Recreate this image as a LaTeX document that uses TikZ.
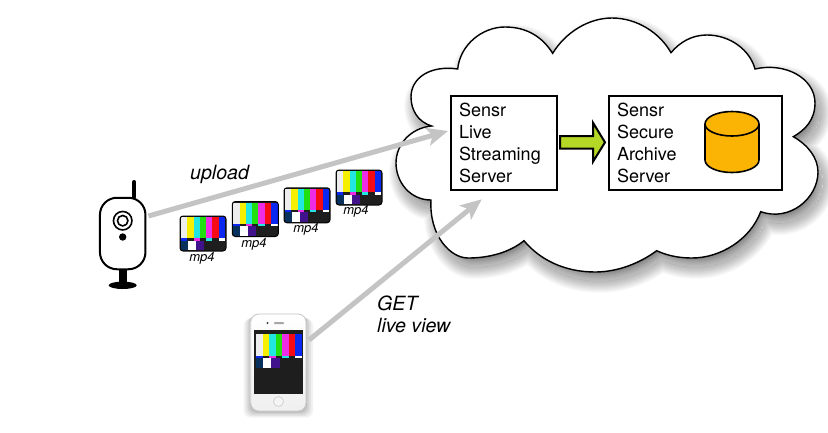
\documentclass[tikz,border=0pt]{standalone}
\usepackage{fontspec}
\setmainfont{TeX Gyre Heros}
\usetikzlibrary{arrows.meta}
\definecolor{flowgray}{HTML}{C4C4C4}
\definecolor{greenarrow}{HTML}{B5D827}
\definecolor{dbfill}{HTML}{FBB404}
\definecolor{tvwhite}{HTML}{EDEDED}
\definecolor{tvyellow}{HTML}{F6F000}
\definecolor{tvcyan}{HTML}{22E6E0}
\definecolor{tvgreen}{HTML}{22E010}
\definecolor{tvmagenta}{HTML}{EE2CE6}
\definecolor{tvred}{HTML}{F60A14}
\definecolor{tvblue}{HTML}{0A28F0}
\definecolor{tvnavy}{HTML}{08305C}
\definecolor{tvpurple}{HTML}{40128C}
\definecolor{tvdark}{HTML}{1E1E1E}
\newcommand{\cloudpath}{(431.7,126)
 .. controls (418,122) and (411,110) .. (411,97)
 .. controls (411,78) and (430,65) .. (457.7,69)
 .. controls (460,45) and (482,27) .. (505,27)
 .. controls (528,27) and (543,38) .. (552.7,53.3)
 .. controls (565,33) and (588,18) .. (612,18)
 .. controls (637,18) and (660,33) .. (671,52.7)
 .. controls (680,42) and (692,35) .. (707,35)
 .. controls (730,35) and (750,50) .. (755,69)
 .. controls (785,62) and (815,78) .. (815,103)
 .. controls (815,120) and (805,130) .. (793.3,136.7)
 .. controls (808,145) and (818,158) .. (818,172)
 .. controls (818,198) and (790,222) .. (760.7,211.7)
 .. controls (750,240) and (720,258) .. (692,258)
 .. controls (680,258) and (668,256) .. (656.7,250.7)
 .. controls (640,263) and (618,272) .. (595,272)
 .. controls (565,272) and (540,260) .. (524,240.7)
 .. controls (510,252) and (490,258) .. (468,258)
 .. controls (450,258) and (429,235) .. (431,200)
 .. controls (410,200) and (396,182) .. (396,163)
 .. controls (396,145) and (410,128) .. (431.7,126) -- cycle}
\newcommand{\testcard}[2]{%
 \foreach \c [count=\i from 0] in {tvwhite,tvyellow,tvcyan,tvgreen,tvmagenta,tvred,tvblue}{
   \fill[\c] ({\i*#1/7},0) rectangle ({(\i+1)*#1/7+0.3},{0.64*#2});}
 \foreach \c [count=\i from 0] in {tvblue,tvdark,tvmagenta,tvdark,tvcyan,tvdark,white}{
   \fill[\c] ({\i*#1/7},{0.64*#2}) rectangle ({(\i+1)*#1/7+0.3},{0.71*#2});}
 \fill[tvnavy] (0,{0.71*#2}) rectangle ({0.15*#1},#2);
 \fill[white] ({0.15*#1},{0.71*#2}) rectangle ({0.33*#1},#2);
 \fill[tvpurple] ({0.33*#1},{0.71*#2}) rectangle ({0.52*#1},#2);
 \fill[tvdark] ({0.52*#1},{0.71*#2}) rectangle (#1,#2);
}
\tikzset{
 flow/.style={draw=flowgray,line width=5pt,-{Stealth[length=21pt,width=18pt,inset=5pt]}},
 boxnode/.style={draw=black,line width=2pt,anchor=north west,align=left,inner ysep=0pt,inner xsep=8pt,
   font=\fontsize{18}{22}\selectfont,minimum height=93.7pt},
 flowlabel/.style={anchor=base west,inner sep=0pt,font=\fontsize{19.6}{22}\selectfont\itshape},
 mplabel/.style={inner sep=0pt,font=\fontsize{13}{13}\selectfont\itshape},
 tvicon/.pic={
   \begin{scope}
    \clip[rounded corners=3pt] (0,0) rectangle (46,35);
    \fill[tvdark] (0,0) rectangle (46,35);
    \begin{scope}[shift={(1,1.2)}]
      \testcard{44}{33}
    \end{scope}
   \end{scope}
   \draw[black,line width=1pt,rounded corners=3pt] (0,0) rectangle (46,35);
 }
}
\begin{document}
\begin{tikzpicture}[x=1pt,y=-1pt]
\useasboundingbox (0,0) rectangle (828,432);
\fill[white] (0,0) rectangle (828,432);
% cloud shadow: soft edge, fading both ways from the outline
\begin{scope}[shift={(5,9)}]
 \foreach \w in {24,22,20,18,16,14,12,10,8,6,4,2}{
   \draw[black,opacity=0.025,line width=\w pt,line join=round] \cloudpath;
 }
 \begin{scope}
  \clip \cloudpath;
  \fill[white] \cloudpath;
  \fill[black,opacity=0.6] \cloudpath;
  \foreach \w in {24,22,20,18,16,14,12,10,8,6,4,2}{
    \draw[white,opacity=0.07,line width=\w pt,line join=round] \cloudpath;
  }
 \end{scope}
\end{scope}
\draw[black,fill=white,line width=1.4pt,miter limit=10] \cloudpath;

% boxes
\node[boxnode,text width=90pt,minimum width=106pt] (live) at (450,95)
 {Sensr\\Live\\Streaming\\Server};
\node[boxnode,text width=157pt,minimum width=173pt] (archive) at (608,95)
 {Sensr\\Secure\\Archive\\Server};

% green arrow
\draw[black,line width=2pt,fill=greenarrow,miter limit=10]
 (560,136) -- (593,136) -- (593,122.7) -- (605,142.3) -- (593,161.7) -- (593,148.7) -- (560,148.7) -- cycle;

% database
\draw[black,line width=1.6pt,fill=dbfill]
 (705,124) -- (705,160) arc[start angle=180,end angle=0,x radius=27,y radius=12.5] -- (759,124)
 arc[start angle=0,end angle=-180,x radius=27,y radius=12.5] -- cycle;
\draw[black,line width=1.6pt] (705,124) arc[start angle=180,end angle=0,x radius=27,y radius=12];

% camera
\draw[black,line width=4pt,line cap=round] (134.3,182) -- (134.3,197);
\fill[black] (119,268) rectangle (126.7,284);
\fill[black] (122.7,285.3) ellipse[x radius=14,y radius=3.7];
\node[draw=black,fill=white,line width=2pt,rounded corners=17pt,minimum width=45.5pt,minimum height=71.5pt,inner sep=0pt] (camera) at (122.7,233.5) {};
\node[draw=black,line width=1.6pt,circle,minimum size=18.5pt,inner sep=0pt] (lensouter) at (122.7,220.7) {};
\node[draw=black,line width=1.6pt,circle,minimum size=10.5pt,inner sep=0pt] (lensinner) at (122.7,220.7) {};
\fill[black] (122.7,237) circle[radius=3.7];

% video icons
\pic at (180,216) {tvicon};
\pic at (232.3,201.5) {tvicon};
\pic at (284,187.8) {tvicon};
\pic at (336,170) {tvicon};
\node[mplabel] (m1) at (202,258) {mp4};
\node[mplabel] (m2) at (254,244) {mp4};
\node[mplabel] (m3) at (306,229) {mp4};
\node[mplabel] (m4) at (356,211) {mp4};

% phone
\foreach \w/\o in {7/0.05,5/0.06,3/0.07,1/0.08}{
  \fill[black,opacity=\o,rounded corners=7pt] (250.7-\w,315+\w*0.5) rectangle (306+\w,412+\w*0.8);
}
\draw[draw=gray!45,line width=0.8pt,top color=white,bottom color=gray!12,rounded corners=8pt] (250.7,314) rectangle (306,411);
\fill[tvdark] (254,330) rectangle (303,394);
\begin{scope}[shift={(256,334.3)}]
 \testcard{45.5}{34}
\end{scope}
\fill[black!75] (267.5,323) circle[radius=1.2];
\fill[gray!70,rounded corners=0.8pt] (274,322) rectangle (284,324.2);
\node[draw=gray!35,fill=gray!8,line width=0.8pt,circle,minimum size=10pt,inner sep=0pt] (homebtn) at (278.5,401.5) {};

% connectors
\coordinate (uploadstart) at (148.5,216);
\coordinate (uploadend) at (448,131);
\coordinate (getstart) at (309,340);
\coordinate (getend) at (481.7,199.3);
\draw[flow] (uploadstart) -- (uploadend);
\draw[flow] (getstart) -- (getend);

% labels
\node[flowlabel] (lblupload) at (190,179) {upload};
\node[flowlabel] (lblget) at (377,310) {GET};
\node[flowlabel] (lblview) at (377,332) {live view};
\end{tikzpicture}
\end{document}
